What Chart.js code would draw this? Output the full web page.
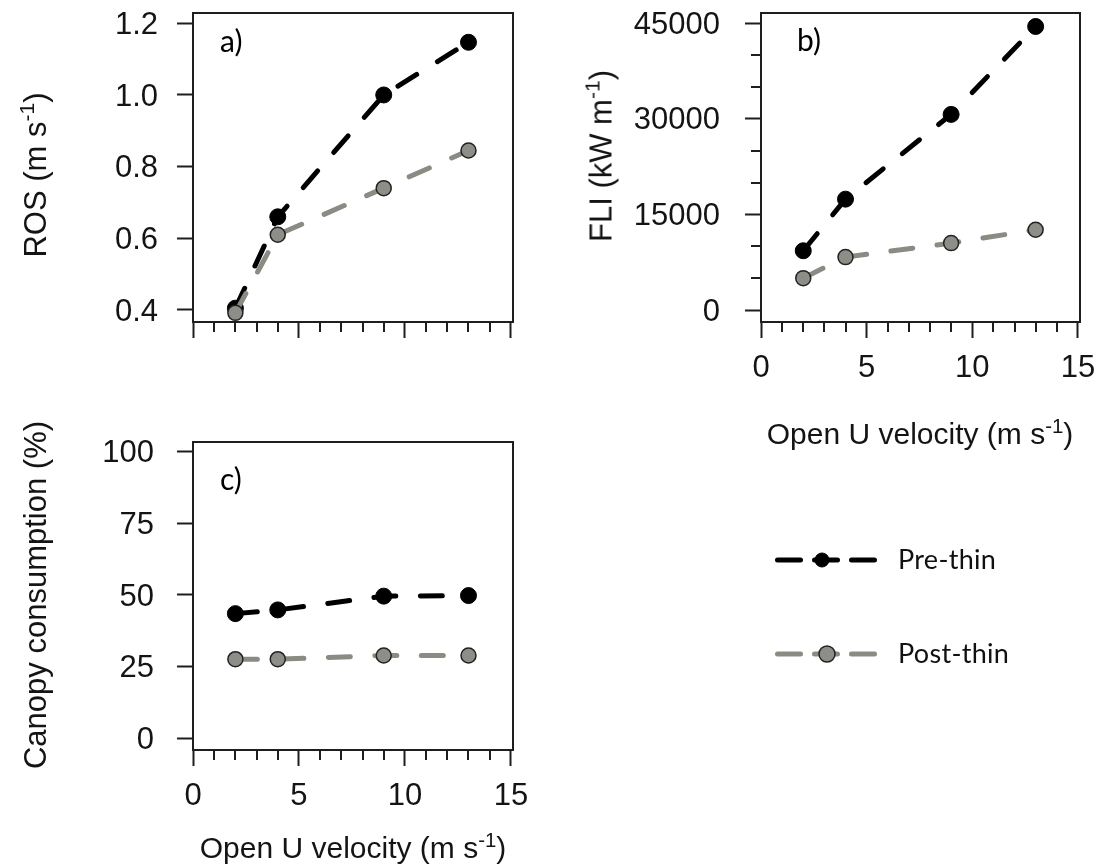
<!DOCTYPE html>
<html>
<head>
<meta charset="utf-8">
<script src="https://cdn.jsdelivr.net/npm/chart.js@4.4.1/dist/chart.umd.min.js"></script>
<style>
  html, body { margin: 0; padding: 0; background: #fff; }
  #wrap { position: relative; width: 1100px; height: 865px; overflow: hidden; background: #fff; }
  #wrap canvas { position: absolute; }
  .ttl { position: absolute; font-family: "Liberation Sans", Arial, sans-serif; font-size: 31px; line-height: 1;
         color: #141414; white-space: nowrap; transform: translate(-50%, -50%); }
  .ttl.x { font-size: 30px; }
  .ttl.rot { transform: translate(-50%, -50%) rotate(-90deg); }
  .ttl sup { font-size: 0.68em; line-height: 0; vertical-align: 0.55em; }
</style>
</head>
<body>
<div id="wrap">
  <canvas id="panelA" width="560" height="400" style="left:0;top:0;width:560px;height:400px"></canvas>
  <canvas id="panelB" width="540" height="400" style="left:560px;top:0;width:540px;height:400px"></canvas>
  <canvas id="panelC" width="1100" height="445" style="left:0;top:420px;width:1100px;height:445px"></canvas>

  <div class="ttl rot" style="left:34.5px;top:175px">ROS (m s<sup>-1</sup>)</div>
  <div class="ttl rot" style="left:600.5px;top:156px">FLI (kW m<sup>-1</sup>)</div>
  <div class="ttl x" style="left:920px;top:434px">Open U velocity (m s<sup>-1</sup>)</div>
  <div class="ttl rot" style="left:35px;top:595px">Canopy consumption (%)</div>
  <div class="ttl x" style="left:353px;top:848px">Open U velocity (m s<sup>-1</sup>)</div>
</div>
<script>
// Wind speeds (open U velocity, m/s) at which each scenario was simulated
const xValues = [2, 4, 9, 13];

// a) rate of spread (m/s)
const rosPre  = [0.405, 0.66, 1.0, 1.147];
const rosPost = [0.392, 0.61, 0.74, 0.845];

// b) fireline intensity (kW/m)
const fliPre  = [9300, 17400, 30700, 44500];
const fliPost = [5000, 8300, 10500, 12600];

// c) canopy consumption (%)
const canopyPre  = [43.5, 44.8, 49.6, 49.8];
const canopyPost = [27.6, 27.6, 28.9, 28.9];

const seriesNames = ['Pre-thin', 'Post-thin'];

// axis ticks
const xTicks = [0, 5, 10, 15];
const xTickLabels = ['0', '5', '10', '15'];
const xMinorTicks = [1, 2, 3, 4, 6, 7, 8, 9, 11, 12, 13, 14];
const rosTicks = [0.4, 0.6, 0.8, 1.0, 1.2];
const rosTickLabels = ['0.4', '0.6', '0.8', '1.0', '1.2'];
const fliTicks = [0, 15000, 30000, 45000];
const fliTickLabels = ['0', '15000', '30000', '45000'];
const fliMinorTicks = [5000, 10000, 20000, 25000, 35000, 40000];
const canopyTicks = [0, 25, 50, 75, 100];
const canopyTickLabels = ['0', '25', '50', '75', '100'];

const AXIS_FONT = 'Liberation Sans, Arial, sans-serif';
const INK = '#141414';
const FRAME = '#1e1e1e';
const PRE_COLOR = '#000000';
const POST_LINE = '#8b8b83';
const POST_FILL = '#8e8e88';
const TAG_FONT = '30px Lato, "Open Sans", sans-serif';
const LEGEND_FONT = '27px Lato, "Open Sans", sans-serif';

function seriesSets(pre, post) {
  return [
    {
      label: seriesNames[0],
      data: xValues.map((x, i) => ({ x: x, y: pre[i] })),
      borderColor: PRE_COLOR, borderWidth: 5, borderDash: [22, 24.5], borderCapStyle: 'round',
      pointRadius: 8, pointBackgroundColor: PRE_COLOR, pointBorderColor: PRE_COLOR, pointBorderWidth: 1,
      tension: 0, clip: false, order: 1
    },
    {
      label: seriesNames[1],
      data: xValues.map((x, i) => ({ x: x, y: post[i] })),
      borderColor: POST_LINE, borderWidth: 5, borderDash: [22, 24.5], borderCapStyle: 'round',
      pointRadius: 7.5, pointBackgroundColor: POST_FILL, pointBorderColor: '#222', pointBorderWidth: 1.5,
      tension: 0, clip: false, order: 0
    }
  ];
}

// Legend: dashed line with the marker in its middle, label to the right
function drawLegend(ctx, chart, cfg) {
  const ds = chart.data.datasets;
  const rows = [
    { y: 560, base: 569, mx: 822, r: 7, ds: ds[0] },
    { y: 654, base: 663, mx: 827, r: 8, ds: ds[1] }
  ];
  rows.forEach(row => {
    const y = row.y - cfg.top;
    ctx.save();
    ctx.strokeStyle = row.ds.borderColor;
    ctx.lineWidth = 5;
    ctx.lineCap = 'round';
    ctx.setLineDash([23, 14]);
    ctx.beginPath();
    ctx.moveTo(777.5 - cfg.left, y);
    ctx.lineTo(875.5 - cfg.left, y);
    ctx.stroke();
    ctx.setLineDash([]);
    ctx.beginPath();
    ctx.arc(row.mx - cfg.left, y, row.r, 0, Math.PI * 2);
    ctx.fillStyle = row.ds.pointBackgroundColor;
    ctx.fill();
    ctx.lineWidth = row.ds.pointBorderWidth;
    ctx.strokeStyle = row.ds.pointBorderColor;
    ctx.stroke();
    ctx.fillStyle = '#111';
    ctx.font = LEGEND_FONT;
    if ('letterSpacing' in ctx) ctx.letterSpacing = '0.3px';
    ctx.textAlign = 'left';
    ctx.textBaseline = 'alphabetic';
    ctx.fillText(row.ds.label, 898 - cfg.left, row.base - cfg.top);
    ctx.restore();
  });
}

// Closed frame, minor tick marks, panel tag (and legend on the last panel)
function decorPlugin(cfg) {
  return {
    id: 'decor',
    afterDraw(chart) {
      const ctx = chart.ctx;
      const a = chart.chartArea;
      const xs = chart.scales.x;
      const ys = chart.scales.y;
      ctx.save();
      ctx.strokeStyle = FRAME;
      ctx.lineWidth = 2;
      ctx.strokeRect(a.left, a.top, a.right - a.left, a.bottom - a.top);
      ctx.beginPath();
      xMinorTicks.forEach(v => {
        const px = Math.round(xs.getPixelForValue(v));
        ctx.moveTo(px, a.bottom);
        ctx.lineTo(px, a.bottom + 10);
      });
      (cfg.yMinor || []).forEach(v => {
        const py = Math.round(ys.getPixelForValue(v));
        ctx.moveTo(a.left - 10, py);
        ctx.lineTo(a.left, py);
      });
      ctx.stroke();
      ctx.fillStyle = '#000';
      ctx.font = TAG_FONT;
      ctx.textAlign = 'left';
      ctx.textBaseline = 'alphabetic';
      ctx.fillText(cfg.tag, cfg.tagX - cfg.left, cfg.tagY - cfg.top);
      if (cfg.legend) drawLegend(ctx, chart, cfg);
      ctx.restore();
    }
  };
}

function makePanel(cfg) {
  const el = document.getElementById(cfg.id);
  const W = el.width, H = el.height;
  const box = cfg.box;
  return new Chart(el, {
    type: 'line',
    data: { datasets: seriesSets(cfg.pre, cfg.post) },
    options: {
      responsive: false,
      animation: false,
      devicePixelRatio: 1,
      events: [],
      layout: { padding: { left: 0, top: box.top, right: W - box.right, bottom: 0 } },
      plugins: { legend: { display: false }, tooltip: { enabled: false } },
      scales: {
        x: {
          type: 'linear', position: 'bottom', min: 0, max: 15.1,
          afterBuildTicks: s => { s.ticks = xTicks.map(v => ({ value: v })); },
          afterFit: s => { s.height = H - box.bottom; s.paddingLeft = 0; s.paddingRight = 0; },
          ticks: {
            display: cfg.xLabels, autoSkip: false, maxRotation: 0, padding: 12,
            callback: (v, i) => xTickLabels[i],
            font: { family: AXIS_FONT, size: 31 }, color: INK
          },
          grid: { display: true, drawOnChartArea: false, drawTicks: true, tickLength: 16, tickWidth: 2, tickColor: FRAME },
          border: { display: true, color: FRAME, width: 2 }
        },
        y: {
          type: 'linear', position: 'left', min: cfg.yMin, max: cfg.yMax,
          afterBuildTicks: s => { s.ticks = cfg.yTicks.map(v => ({ value: v })); },
          afterFit: s => { s.width = box.left; s.paddingTop = 0; s.paddingBottom = 0; },
          ticks: {
            autoSkip: false, padding: cfg.yPad, labelOffset: 2,
            callback: (v, i) => cfg.yLabels[i],
            font: { family: AXIS_FONT, size: 31 }, color: INK
          },
          grid: { display: true, drawOnChartArea: false, drawTicks: true, tickLength: 16, tickWidth: 2, tickColor: FRAME },
          border: { display: true, color: FRAME, width: 2 }
        }
      }
    },
    plugins: [decorPlugin(cfg)]
  });
}

makePanel({
  id: 'panelA', left: 0, top: 0,
  box: { left: 193, top: 13, right: 513, bottom: 322 },
  pre: rosPre, post: rosPost,
  yMin: 0.3665, yMax: 1.2287, yTicks: rosTicks, yLabels: rosTickLabels, yPad: 19,
  xLabels: false, tag: 'a)', tagX: 220, tagY: 52
});

makePanel({
  id: 'panelB', left: 560, top: 0,
  box: { left: 201, top: 13, right: 520, bottom: 322 },
  pre: fliPre, post: fliPost,
  yMin: -1883, yMax: 46617, yTicks: fliTicks, yLabels: fliTickLabels, yMinor: fliMinorTicks, yPad: 25,
  xLabels: true, tag: 'b)', tagX: 797, tagY: 51
});

makePanel({
  id: 'panelC', left: 0, top: 420,
  box: { left: 193, top: 22, right: 513, bottom: 330 },
  pre: canopyPre, post: canopyPost,
  yMin: -4.08, yMax: 103.38, yTicks: canopyTicks, yLabels: canopyTickLabels, yPad: 23,
  xLabels: true, tag: 'c)', tagX: 220, tagY: 490, legend: true
});
</script>
</body>
</html>
